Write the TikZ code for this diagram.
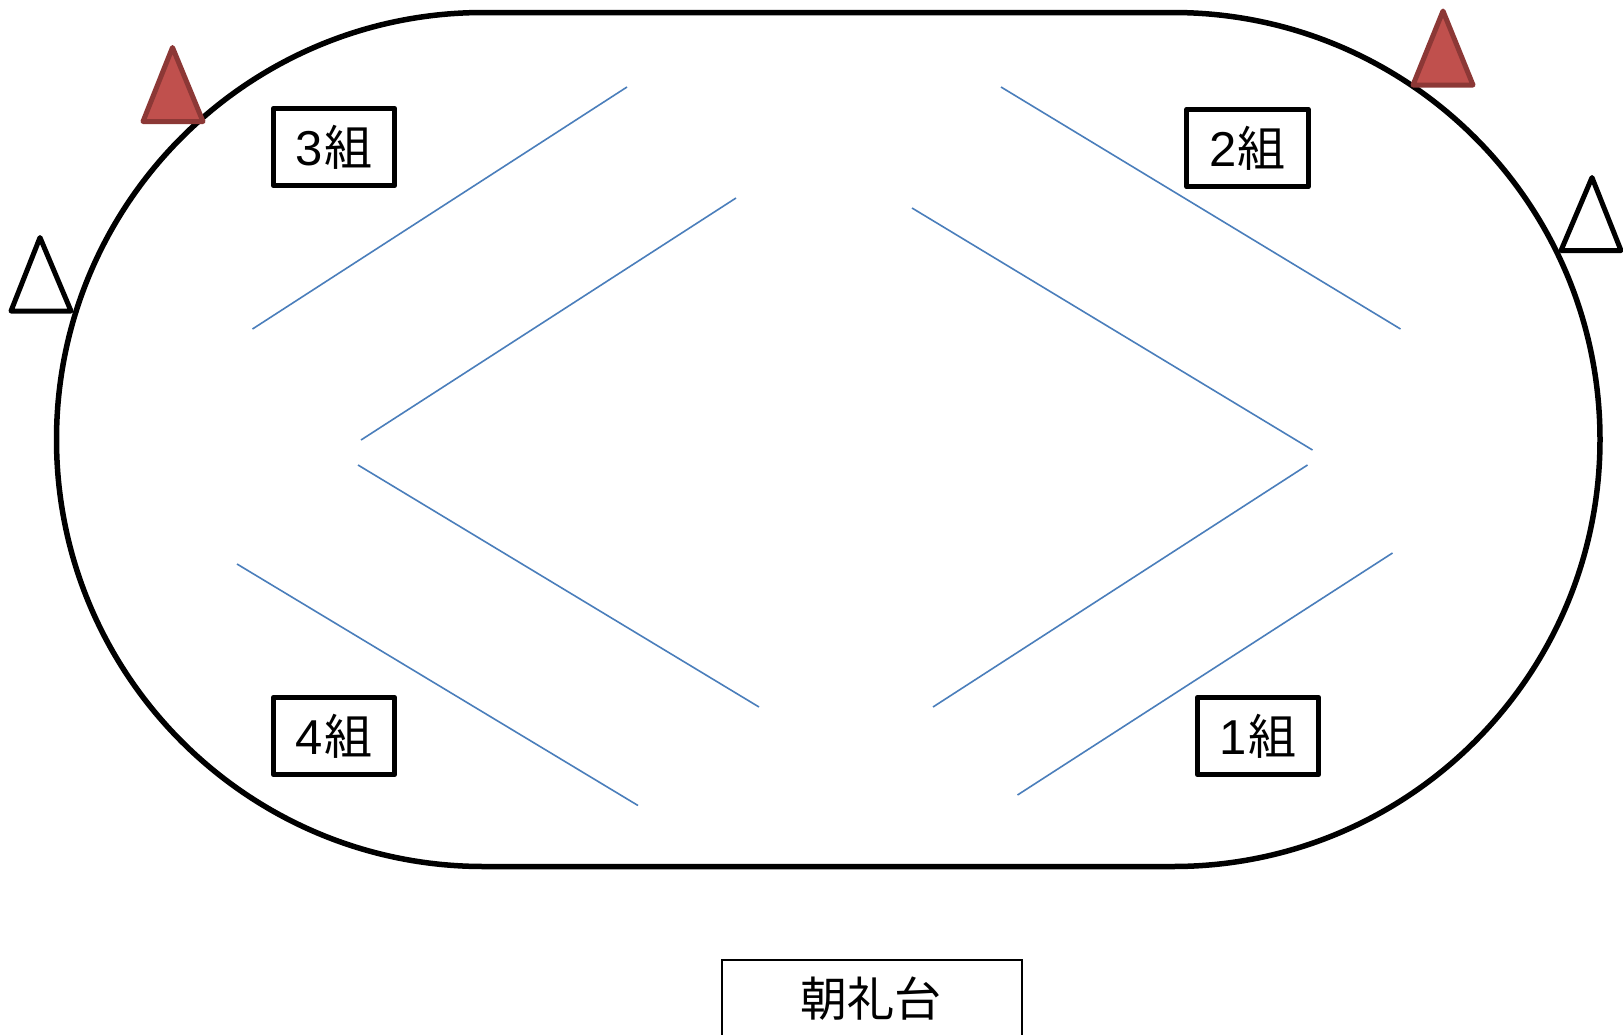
\documentclass[tikz,border=0pt]{standalone}
\usepackage{fontspec}
\newfontfamily\jpfont{Noto Sans CJK JP}
\newfontfamily\digitfont{Liberation Sans}
\definecolor{bluel}{HTML}{4A7EBB}
\definecolor{redfill}{HTML}{C0504D}
\definecolor{redline}{HTML}{8C3836}
\newcommand{\grouplabel}[1]{{\digitfont\fontsize{49}{49}\selectfont #1}\hspace{1pt}{\jpfont\fontsize{48}{48}\selectfont 組}}
\tikzset{
  track/.style={draw=black,line width=5.5pt},
  lane/.style={draw=bluel,line width=1.6pt},
  redcone/.style={draw=redline,fill=redfill,line width=5pt,line join=round},
  whitecone/.style={draw=black,fill=white,line width=5pt,line join=round},
  groupbox/.style={draw=black,fill=white,line width=5pt,line join=round,inner sep=0pt,minimum width=121.5pt,minimum height=77.5pt},
  standbox/.style={draw=black,fill=white,line width=2pt,inner sep=0pt,minimum width=300pt,minimum height=100pt}
}
\begin{document}
\begin{tikzpicture}[x=1pt,y=-1pt]
\useasboundingbox (0,0) rectangle (1623,1034);
\clip (0,0) rectangle (1623,1034);
\fill[white] (0,0) rectangle (1623,1034);
% track
\draw[track] (483.5,12.5) -- (1173,12.5) arc[start angle=90,end angle=-90,radius=427pt] -- (483.5,866.5) arc[start angle=270,end angle=90,radius=427pt] -- cycle;
% lanes
\draw[lane] (627,87) -- (252.5,329);
\draw[lane] (736,198) -- (361,440);
\draw[lane] (1001,87) -- (1400.5,329);
\draw[lane] (912,208) -- (1312.5,450);
\draw[lane] (358,465) -- (759,707);
\draw[lane] (237,564) -- (638,805.5);
\draw[lane] (1307.5,465) -- (933,707);
\draw[lane] (1392.5,553) -- (1017.5,795);
% cones
\draw[redcone] (172.5,47.5) -- (203,121.5) -- (143,121.5) -- cycle;
\draw[redcone] (1443,11) -- (1473,85) -- (1413,85) -- cycle;
\draw[whitecone] (40,237.5) -- (71,311) -- (11,311) -- cycle;
\draw[whitecone] (1592,177.5) -- (1621,250.5) -- (1561,250.5) -- cycle;
% group boxes
\node[groupbox] (g3) at (334,147) {\grouplabel{3}};
\node[groupbox] (g2) at (1247.5,148) {\grouplabel{2}};
\node[groupbox] (g4) at (334,736) {\grouplabel{4}};
\node[groupbox] (g1) at (1258,736) {\grouplabel{1}};
% stand
\node[standbox] (stand) at (871.5,1010) {};
\node[font=\jpfont\fontsize{47}{47}\selectfont,inner sep=0pt] (standlabel) at (871,999) {朝礼台};
\end{tikzpicture}
\end{document}
